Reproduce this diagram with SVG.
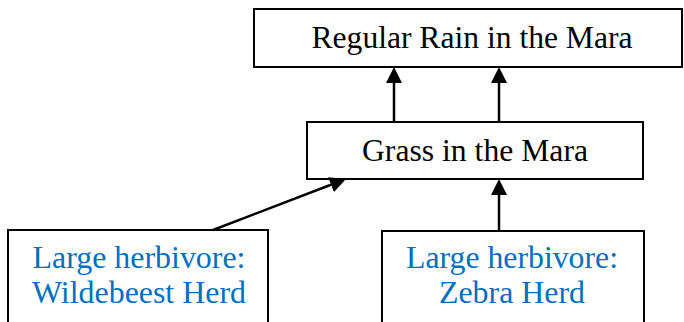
<svg xmlns="http://www.w3.org/2000/svg" width="684" height="322" viewBox="0 0 684 322">
  <style>
    .box { fill: #ffffff; stroke: #000000; stroke-width: 2; }
    .lbl { font-family: "Liberation Serif", "Times New Roman", serif; font-size: 31.5px; text-anchor: middle; fill: #000000; }
    .blue { fill: #0070C0; }
    .edge { stroke: #000000; stroke-width: 2.5; fill: none; marker-end: url(#head); }
  </style>
  <defs>
    <marker id="head" markerUnits="userSpaceOnUse" markerWidth="16" markerHeight="16" refX="2" refY="8" orient="auto">
      <path d="M0,0 L16,8 L0,16 Z" fill="#000000"/>
    </marker>
  </defs>
  <rect width="684" height="322" fill="#ffffff"/>

  <g id="rain">
    <rect class="box" x="254" y="9" width="428" height="58"/>
    <text class="lbl" x="472" y="48" textLength="321" lengthAdjust="spacingAndGlyphs">Regular Rain in the Mara</text>
  </g>

  <g id="grass">
    <rect class="box" x="307" y="122" width="336" height="57"/>
    <text class="lbl" x="475" y="161" textLength="226" lengthAdjust="spacingAndGlyphs">Grass in the Mara</text>
  </g>

  <g id="wildebeest">
    <rect class="box" x="8" y="230" width="260" height="100"/>
    <text class="lbl blue" x="139" y="268" textLength="213" lengthAdjust="spacingAndGlyphs">Large herbivore:</text>
    <text class="lbl blue" x="139" y="303" textLength="214" lengthAdjust="spacingAndGlyphs">Wildebeest Herd</text>
  </g>

  <g id="zebra">
    <rect class="box" x="382" y="231" width="262" height="100"/>
    <text class="lbl blue" x="512" y="268" textLength="212" lengthAdjust="spacingAndGlyphs">Large herbivore:</text>
    <text class="lbl blue" x="512" y="303" textLength="146" lengthAdjust="spacingAndGlyphs">Zebra Herd</text>
  </g>

  <g id="connectors">
    <line class="edge" x1="394" y1="122" x2="394" y2="81"/>
    <line class="edge" x1="499" y1="122" x2="499" y2="81"/>
    <line class="edge" x1="499" y1="231" x2="499" y2="193"/>
    <line class="edge" x1="213" y1="230" x2="332.9" y2="184"/>
  </g>
</svg>
